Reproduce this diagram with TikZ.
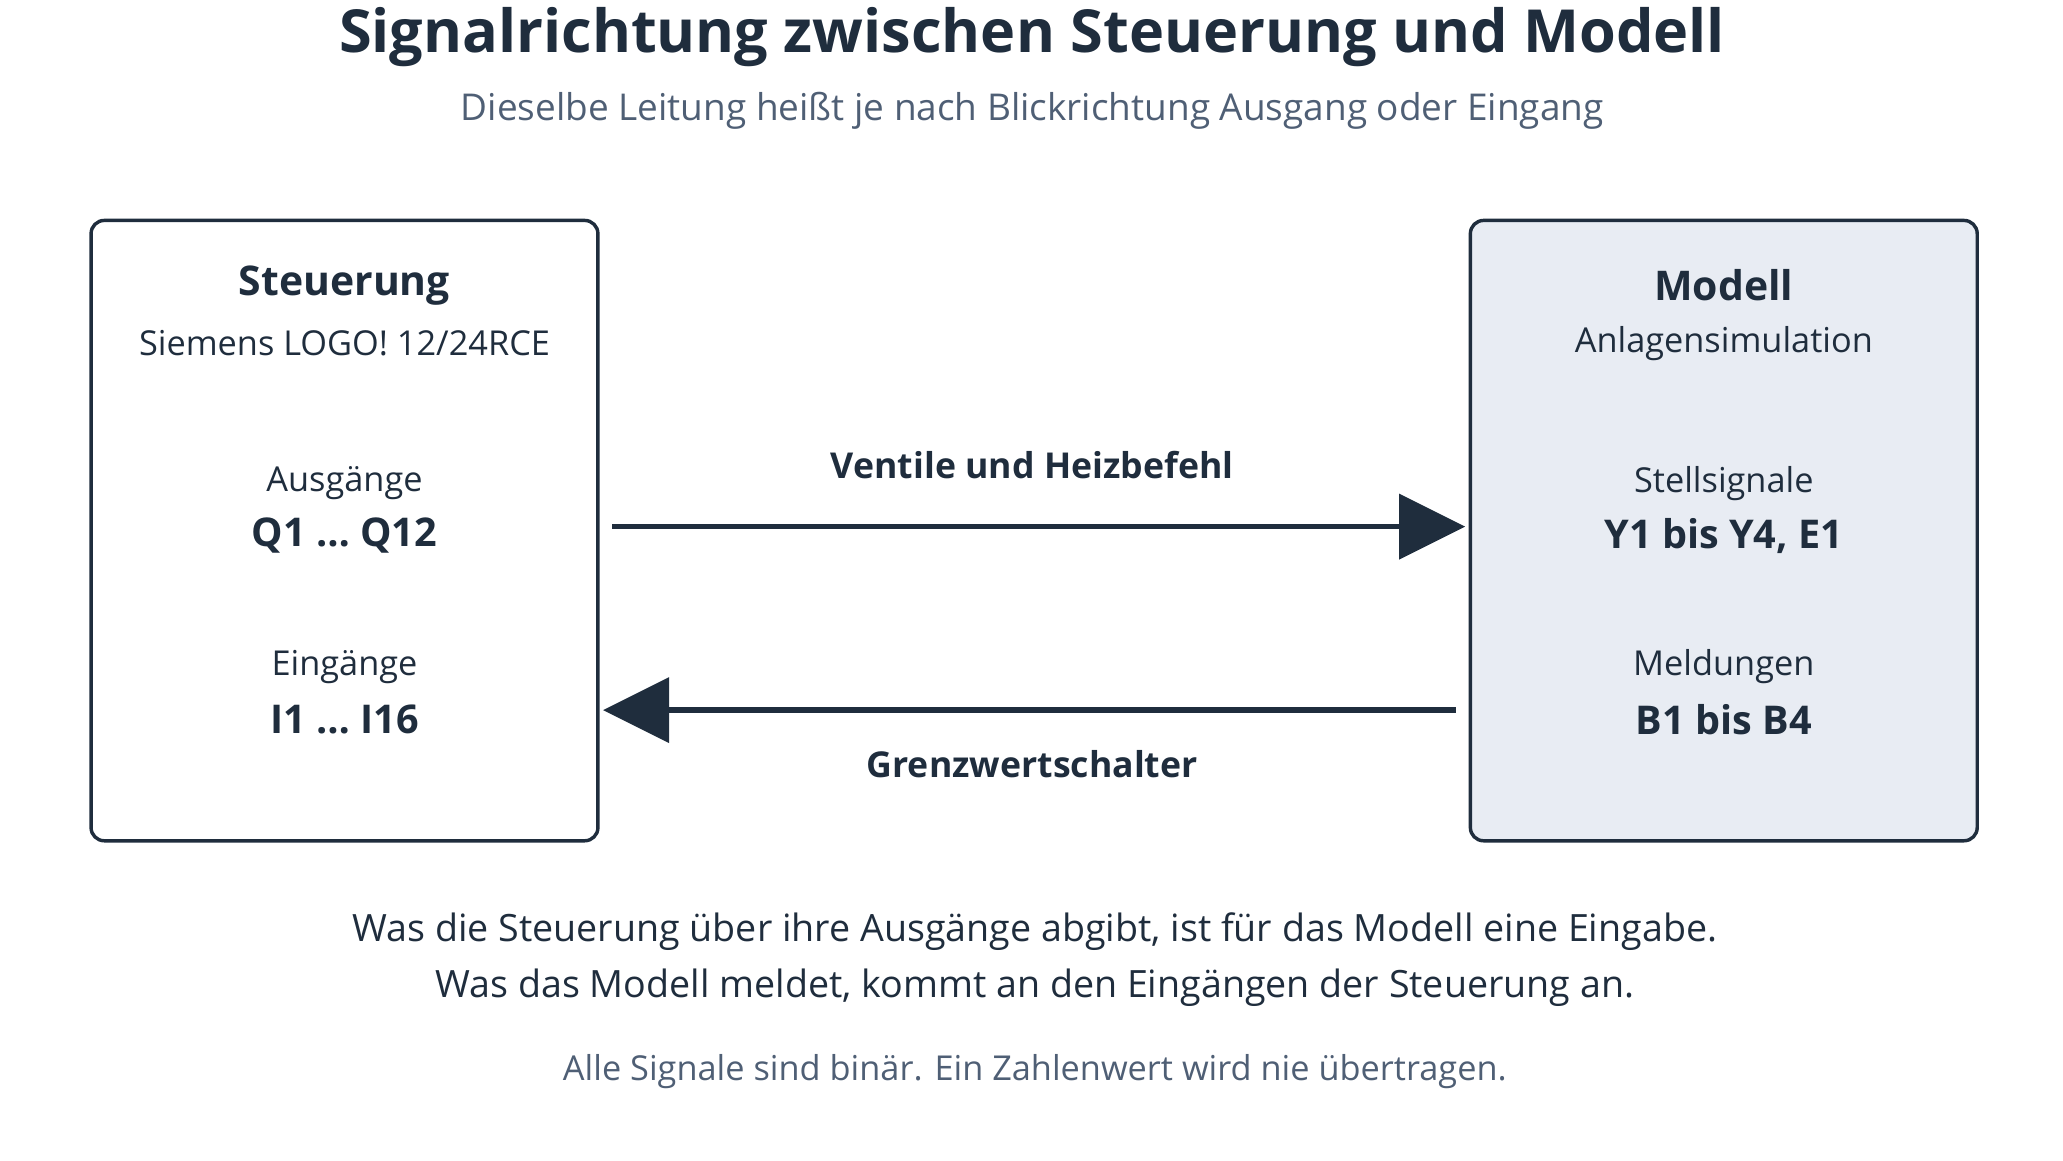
\documentclass[tikz,border=0pt]{standalone}
\usepackage{fontspec}
\setmainfont{Open Sans}
\begin{document}
\begin{tikzpicture}[x=1pt,y=-1pt,
 box/.style={draw=dk,line width=2.6pt,rounded corners=10pt},
 t/.style={text=dk,inner sep=0pt,anchor=center},
 g/.style={text=gy,inner sep=0pt,anchor=center},
 arr/.style={draw=dk,line width=4pt},
 head/.style={fill=dk,draw=none}]
\definecolor{dk}{HTML}{1F2D3D}
\definecolor{gy}{HTML}{4F5F75}
\definecolor{lf}{HTML}{E8ECF3}
\newcommand{\fs}[1]{\fontsize{#1}{#1}\selectfont}
\useasboundingbox (0,0) rectangle (1563,879);
\node[t,font=\bfseries\fs{45}] (title) at (782,28) {Signalrichtung zwischen Steuerung und Modell};
\node[g,font=\fs{28}] (sub) at (782,84) {Dieselbe Leitung heißt je nach Blickrichtung Ausgang oder Eingang};
\draw[box] (69,167) rectangle (453,637);
\draw[box,fill=lf] (1114,167) rectangle (1498,637);
\node[t,font=\bfseries\fs{31}] (s1) at (261,216) {Steuerung};
\node[t,font=\fs{26}] (s2) at (261,260) {Siemens LOGO! 12/24RCE};
\node[t,font=\fs{26}] (s3) at (261,366) {Ausgänge};
\node[t,font=\bfseries\fs{30}] (s4) at (261,406) {Q1 … Q12};
\node[t,font=\fs{26}] (s5) at (261,505) {Eingänge};
\node[t,font=\bfseries\fs{30}] (s6) at (261,545) {I1 … I16};
\node[t,font=\bfseries\fs{31}] (m1) at (1306,216) {Modell};
\node[t,font=\fs{26}] (m2) at (1306,260) {Anlagensimulation};
\node[t,font=\fs{26}] (m3) at (1306,366) {Stellsignale};
\node[t,font=\bfseries\fs{30}] (m4) at (1306,406) {Y1 bis Y4, E1};
\node[t,font=\fs{26}] (m5) at (1306,505) {Meldungen};
\node[t,font=\bfseries\fs{30}] (m6) at (1306,545) {B1 bis B4};
\coordinate (a1) at (464,399); \coordinate (a2) at (1065,399); \coordinate (a3) at (1110,399);
\draw[arr] (a1) -- (a2);
\fill[dk] (1060,374) -- (a3) -- (1060,424) -- cycle;
\node[t,font=\bfseries\fs{27}] (l1) at (782,352) {Ventile und Heizbefehl};
\coordinate (b1) at (1103,538); \coordinate (b2) at (502,538); \coordinate (b3) at (457,538);
\draw[arr] (b1) -- (b2);
\fill[dk] (507,513) -- (b3) -- (507,563) -- cycle;
\node[t,font=\bfseries\fs{27}] (l2) at (782,579) {Grenzwertschalter};
\node[t,font=\fs{28.5}] (f1) at (784,706) {Was die Steuerung über ihre Ausgänge abgibt, ist für das Modell eine Eingabe.};
\node[t,font=\fs{28.5}] (f2) at (784,748) {Was das Modell meldet, kommt an den Eingängen der Steuerung an.};
\node[g,font=\fs{26}] (f3) at (784,812) {Alle Signale sind binär. Ein Zahlenwert wird nie übertragen.};
\end{tikzpicture}
\end{document}
